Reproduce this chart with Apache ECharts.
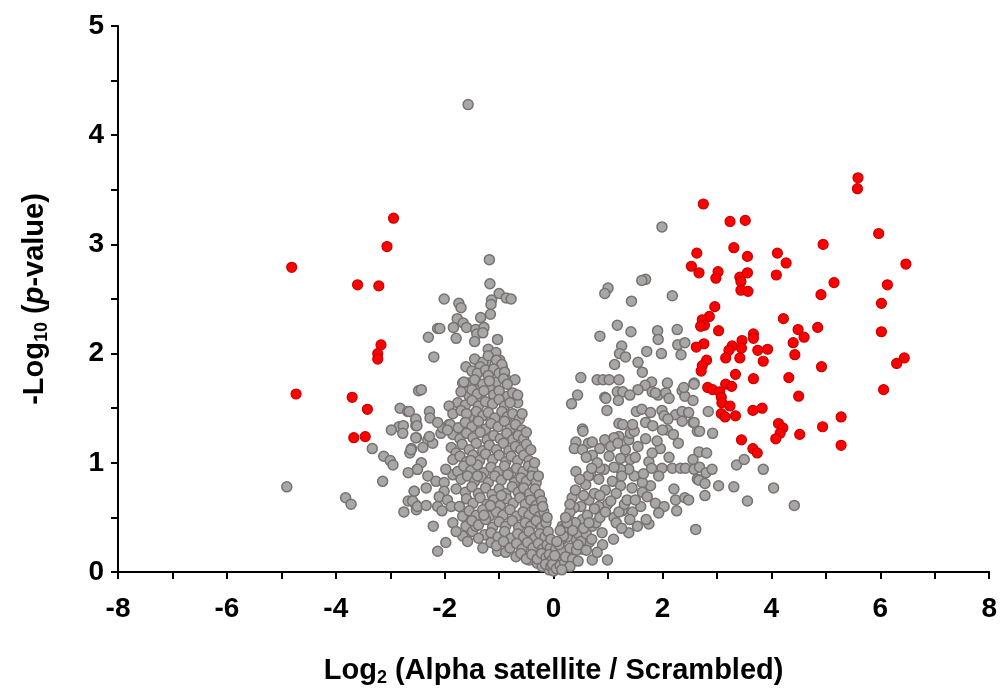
<!DOCTYPE html>
<html lang="en">
<head>
    <meta charset="UTF-8">
    <title>Volcano plot</title>
    <script src="https://cdn.jsdelivr.net/npm/echarts@6/dist/echarts.min.js"></script>
</head>
<body style="margin: 0; background: #fff;">
<div id="container" style="width: 1000px; height: 693px;"></div>
<script type="text/javascript">
    // log2 fold change, -log10 p
    let xTicks = [-8, -6, -4, -2, 0, 2, 4, 6, 8];
    let yTicks = [0, 1, 2, 3, 4, 5];

    let sigPoints = [
        [-2.94, 3.24], [-3.06, 2.98], [-4.81, 2.79], [-3.60, 2.63], [-3.21, 2.62], [-3.17, 2.08], [-3.23, 2.00],
        [-3.23, 1.95], [-4.73, 1.63], [-3.70, 1.60], [-3.42, 1.49], [-3.67, 1.23], [-3.46, 1.24],
        [2.75, 3.37], [3.24, 3.21], [3.52, 3.22], [2.63, 2.92], [3.31, 2.97], [3.56, 2.89], [4.11, 2.92],
        [4.27, 2.83], [4.95, 3.00], [2.53, 2.80], [2.67, 2.74], [3.02, 2.75], [2.98, 2.69], [3.42, 2.70],
        [3.44, 2.66], [3.56, 2.74], [4.09, 2.72], [3.44, 2.58], [3.57, 2.57], [5.15, 2.65], [4.91, 2.54],
        [2.96, 2.43], [2.86, 2.34], [2.73, 2.31], [2.77, 2.26], [2.70, 2.25], [3.03, 2.21], [4.22, 2.32],
        [4.49, 2.22], [4.60, 2.15], [4.85, 2.24], [3.67, 2.18], [3.67, 2.14], [4.40, 2.10], [2.76, 2.09],
        [2.62, 2.06], [3.46, 2.12], [3.28, 2.07], [3.22, 2.03], [3.45, 2.05], [3.75, 2.03], [3.93, 2.04],
        [4.43, 1.99], [3.16, 1.96], [3.42, 1.96], [3.85, 1.93], [2.81, 1.94], [2.73, 1.89], [2.71, 1.84],
        [4.92, 1.88], [3.34, 1.81], [3.67, 1.77], [4.32, 1.78], [3.16, 1.72], [3.27, 1.70], [2.83, 1.69],
        [2.92, 1.67], [3.05, 1.65], [3.08, 1.60], [3.09, 1.55], [3.24, 1.52], [4.50, 1.61], [3.08, 1.45],
        [3.15, 1.42], [3.34, 1.43], [3.66, 1.48], [3.83, 1.50], [4.94, 1.33], [4.13, 1.36], [4.21, 1.32],
        [4.16, 1.27], [4.08, 1.22], [4.52, 1.26], [3.45, 1.21], [3.66, 1.13], [3.74, 1.09], [5.28, 1.42],
        [5.28, 1.16], [5.59, 3.61], [5.58, 3.51], [5.97, 3.10], [6.47, 2.82], [6.13, 2.63], [6.02, 2.46],
        [6.02, 2.20], [6.44, 1.96], [6.30, 1.91], [6.06, 1.67]
    ];

    let nsPoints = [
        // left side, outliers and upper cloud
        [-1.57, 4.28], [-2.48, 1.66], [-2.82, 1.50], [-2.68, 1.47], [-2.53, 1.39], [-2.53, 1.34], [-2.84, 1.33],
        [-2.76, 1.34], [-2.98, 1.30], [-2.77, 1.27], [-2.52, 1.23], [-2.61, 1.13], [-2.64, 1.09], [-3.33, 1.13],
        [-3.12, 1.06], [-3.00, 1.02], [-2.95, 0.98], [-2.67, 0.91], [-2.50, 0.94], [-4.90, 0.78], [-3.14, 0.83],
        [-3.82, 0.68], [-3.72, 0.62], [-2.56, 0.74], [-2.67, 0.65], [-2.54, 0.62], [-2.75, 0.55], [-2.52, 0.57],
        [-1.18, 2.86], [-1.17, 2.64], [-1.00, 2.55], [-0.87, 2.51], [-0.78, 2.50], [-1.14, 2.49], [-1.15, 2.45],
        [-2.01, 2.50], [-1.74, 2.46], [-1.70, 2.42], [-1.16, 2.36], [-1.34, 2.33], [-1.77, 2.32], [-1.66, 2.28],
        [-1.60, 2.24], [-1.84, 2.24], [-2.13, 2.23], [-2.09, 2.23], [-2.30, 2.15], [-1.79, 2.14], [-1.43, 2.22],
        [-1.28, 2.24], [-1.41, 2.18], [-1.30, 2.19], [-1.45, 2.11], [-1.03, 2.13], [-2.20, 1.97], [-1.20, 2.04],
        [-1.06, 2.01], [-2.43, 1.67], [-1.61, 1.88], [-1.37, 1.92], [-1.24, 1.93], [-0.99, 1.94], [-0.94, 1.87],
        [-1.21, 1.81], [-1.43, 1.79], [-0.88, 1.77], [-0.71, 1.76], [-1.67, 1.73], [-1.55, 1.73], [-1.05, 1.74],
        [-1.43, 1.67], [-1.18, 1.69], [-0.85, 1.61], [-0.66, 1.55], [-1.76, 1.55], [-1.55, 1.61], [-1.33, 1.58],
        [-1.03, 1.61], [-1.92, 1.52], [-2.28, 1.47], [-2.65, 1.47], [-2.53, 1.40],
        // left side, lower cloud
        [-2.51, 1.34], [-2.27, 1.41], [-2.31, 1.21], [-2.22, 1.18], [-2.53, 1.23], [-2.40, 1.14], [-2.62, 1.12],
        [-2.43, 1.00], [-2.50, 0.94], [-2.31, 0.88], [-2.16, 0.83], [-2.34, 0.77], [-2.56, 0.74], [-2.59, 0.65],
        [-2.50, 0.60], [-2.34, 0.61], [-2.13, 0.60], [-2.05, 0.56], [-2.21, 0.42], [-2.13, 0.19], [-1.98, 0.27],
        [-2.01, 0.82], [-2.01, 0.74], [-2.10, 0.69], [-1.95, 0.66], [-2.07, 1.27], [-2.04, 1.32], [-1.92, 1.35],
        [-2.13, 1.37], [-2.28, 1.24], [-1.85, 1.26], [-1.88, 1.14], [-1.79, 1.09], [-1.85, 1.03], [-1.85, 0.89],
        [-1.76, 0.92], [-1.98, 0.94], [-1.70, 0.85], [-1.79, 0.76], [-1.88, 0.60], [-1.73, 0.60], [-1.67, 0.51],
        [-1.61, 0.42], [-1.85, 0.45], [-1.67, 0.33], [-1.58, 0.28], [-1.79, 0.37], [-1.49, 0.37], [-1.43, 0.42],
        [-1.27, 0.34], [-1.15, 0.27], [-1.03, 0.19], [-0.88, 0.18], [-0.69, 0.14], [-0.45, 0.11], [-0.30, 0.08],
        [-0.21, 0.05], [-0.08, 0.02],
        // left dense core
        [-1.45, 1.95], [-1.30, 1.92], [-1.20, 1.98], [-1.05, 1.94], [-0.95, 1.90], [-1.35, 1.88],
        [-1.50, 1.84], [-1.40, 1.82], [-1.25, 1.85], [-1.10, 1.86], [-1.00, 1.82], [-0.90, 1.83], [-1.20, 1.80],
        [-1.65, 1.74], [-1.45, 1.76], [-1.30, 1.72], [-1.18, 1.75], [-0.92, 1.77], [-0.85, 1.72],
        [-1.70, 1.65], [-1.50, 1.67], [-1.40, 1.63], [-1.28, 1.66], [-1.10, 1.62], [-1.00, 1.66], [-0.75, 1.64],
        [-1.62, 1.53], [-1.50, 1.57], [-1.38, 1.52], [-1.25, 1.56], [-1.12, 1.54], [-1.00, 1.58], [-0.90, 1.52],
        [-0.80, 1.55], [-1.85, 1.45], [-1.70, 1.48], [-1.55, 1.42], [-1.42, 1.47], [-1.30, 1.43], [-1.20, 1.46],
        [-1.08, 1.41], [-0.95, 1.47], [-0.85, 1.42], [-0.75, 1.45], [-0.63, 1.40], [-1.60, 1.45],
        [-1.90, 1.35], [-1.75, 1.32], [-1.62, 1.37], [-1.50, 1.33], [-1.38, 1.38], [-1.25, 1.31], [-1.15, 1.36],
        [-1.02, 1.33], [-0.90, 1.38], [-0.80, 1.31], [-0.70, 1.35], [-0.58, 1.30], [-1.95, 1.30],
        [-1.72, 1.22], [-1.60, 1.27], [-1.48, 1.23], [-1.35, 1.28], [-1.22, 1.21], [-1.10, 1.25], [-0.98, 1.22],
        [-0.86, 1.27], [-0.75, 1.21], [-0.65, 1.25], [-0.55, 1.22],
        [-1.68, 1.17], [-1.55, 1.12], [-1.42, 1.18], [-1.30, 1.11], [-1.18, 1.16], [-1.05, 1.12], [-0.92, 1.18],
        [-0.82, 1.11], [-0.70, 1.15], [-0.60, 1.12], [-0.50, 1.17],
        [-1.72, 1.06], [-1.60, 1.01], [-1.48, 1.07], [-1.36, 1.02], [-1.25, 1.08], [-1.12, 1.03], [-1.00, 1.07],
        [-0.88, 1.01], [-0.78, 1.06], [-0.66, 1.02], [-0.55, 1.07], [-0.45, 1.02],
        [-1.65, 0.97], [-1.52, 0.93], [-1.40, 0.98], [-1.28, 0.91], [-1.15, 0.96], [-1.02, 0.92], [-0.90, 0.97],
        [-0.78, 0.91], [-0.68, 0.95], [-0.56, 0.92], [-0.46, 0.97], [-0.38, 0.93],
        [-1.58, 0.88], [-1.45, 0.83], [-1.33, 0.87], [-1.20, 0.82], [-1.08, 0.88], [-0.96, 0.84], [-0.84, 0.89],
        [-0.72, 0.82], [-0.60, 0.86], [-0.50, 0.83], [-0.40, 0.88], [-0.32, 0.82],
        [-1.62, 0.73], [-1.50, 0.78], [-1.38, 0.72], [-1.25, 0.77], [-1.13, 0.71], [-1.00, 0.76], [-0.88, 0.72],
        [-0.76, 0.78], [-0.65, 0.73], [-0.55, 0.77], [-0.44, 0.72], [-0.34, 0.76], [-0.26, 0.71],
        [-1.60, 0.67], [-1.48, 0.63], [-1.35, 0.68], [-1.22, 0.62], [-1.10, 0.66], [-0.98, 0.61], [-0.86, 0.67],
        [-0.74, 0.63], [-0.62, 0.68], [-0.52, 0.62], [-0.42, 0.66], [-0.32, 0.61], [-0.22, 0.65],
        [-1.55, 0.56], [-1.42, 0.52], [-1.30, 0.57], [-1.18, 0.51], [-1.05, 0.55], [-0.93, 0.52], [-0.80, 0.57],
        [-0.68, 0.51], [-0.56, 0.55], [-0.45, 0.52], [-0.35, 0.57], [-0.26, 0.51], [-0.18, 0.55],
        [-1.50, 0.47], [-1.38, 0.43], [-1.25, 0.48], [-1.12, 0.41], [-1.00, 0.46], [-0.88, 0.42], [-0.76, 0.47],
        [-0.64, 0.41], [-0.52, 0.45], [-0.42, 0.42], [-0.32, 0.47], [-0.22, 0.41], [-0.14, 0.45],
        [-1.38, 0.31], [-1.15, 0.36], [-1.02, 0.32], [-0.90, 0.37], [-0.78, 0.31], [-0.66, 0.35], [-0.55, 0.32],
        [-0.45, 0.37], [-0.35, 0.31], [-0.25, 0.35], [-0.16, 0.32], [-0.10, 0.37],
        [-1.30, 0.22], [-1.05, 0.24], [-0.92, 0.28], [-0.80, 0.22], [-0.68, 0.26], [-0.58, 0.21], [-0.48, 0.27],
        [-0.38, 0.22], [-0.28, 0.26], [-0.20, 0.21], [-0.12, 0.25], [-0.06, 0.22],
        [-0.60, 0.17], [-0.50, 0.12], [-0.40, 0.16], [-0.30, 0.12], [-0.22, 0.17], [-0.14, 0.13], [-0.08, 0.16],
        [-0.03, 0.11], [-0.15, 0.07], [-0.05, 0.05], [0.00, 0.01],
        [-0.05, 0.30], [-0.12, 0.50], [-0.20, 0.60], [-0.28, 0.88], [-0.35, 1.00], [-0.42, 1.12], [-0.50, 1.28],
        [-0.58, 1.45], [-0.66, 1.62], [-1.52, 1.02], [-1.40, 0.88], [-1.28, 0.52], [-1.16, 0.61], [-0.96, 0.70],
        // right side
        [1.99, 3.16], [1.69, 2.68], [1.62, 2.67], [1.00, 2.60], [0.94, 2.55], [1.43, 2.48], [2.18, 2.53],
        [1.17, 2.26], [0.85, 2.16], [1.42, 2.20], [1.91, 2.21], [1.92, 2.13], [2.27, 2.22], [2.28, 2.08],
        [2.41, 2.10], [1.25, 2.07], [1.21, 2.00], [1.32, 1.97], [1.71, 2.02], [1.98, 2.00], [2.34, 1.99],
        [1.12, 1.90], [1.55, 1.92], [1.63, 1.83], [0.50, 1.78], [0.80, 1.76], [0.91, 1.76], [1.02, 1.76],
        [1.20, 1.76], [1.80, 1.74], [2.09, 1.73], [1.68, 1.71], [1.55, 1.67], [2.58, 1.73], [0.44, 1.62],
        [0.94, 1.60], [1.17, 1.65], [1.27, 1.65], [1.40, 1.62], [1.81, 1.65], [1.92, 1.62], [2.06, 1.64],
        [2.36, 1.66], [2.41, 1.61], [0.33, 1.54], [0.96, 1.59], [1.19, 1.57], [1.87, 1.64], [2.39, 1.69],
        [2.56, 1.57], [2.12, 1.59], [0.98, 1.48], [1.52, 1.47], [1.62, 1.49], [1.78, 1.46], [1.99, 1.48],
        [2.03, 1.43], [2.24, 1.44], [2.36, 1.47], [2.48, 1.46], [1.20, 1.36], [1.27, 1.35], [1.69, 1.37],
        [1.82, 1.34], [2.09, 1.30], [2.20, 1.26], [2.29, 1.18], [2.36, 1.38], [2.56, 1.37], [2.64, 1.29],
        [0.53, 1.31], [0.54, 1.29], [1.20, 1.24], [1.38, 1.21], [1.41, 1.27], [1.48, 1.29], [1.69, 1.22],
        [0.41, 1.19], [0.38, 1.13], [0.64, 1.18], [0.71, 1.19], [0.85, 1.13], [0.94, 1.21], [1.11, 1.23],
        [1.05, 1.15], [1.18, 1.18], [1.32, 1.12], [0.53, 1.12], [0.71, 1.07], [1.02, 1.06], [1.23, 1.04],
        [1.41, 1.03], [1.75, 1.01], [1.96, 1.13], [1.81, 1.09], [2.12, 1.05], [2.18, 0.95], [2.33, 0.95],
        [2.42, 0.95], [2.59, 0.95], [2.64, 0.85], [1.99, 0.95], [1.93, 0.88], [1.78, 0.79], [1.63, 0.82],
        [1.48, 0.88], [1.38, 0.94], [1.23, 0.94], [1.11, 0.96], [0.93, 0.94], [0.68, 0.89], [0.41, 0.92],
        [0.64, 0.88], [0.59, 0.80], [0.83, 0.85], [1.08, 0.83], [1.23, 0.79], [1.44, 0.77], [1.63, 0.73],
        [1.72, 0.69], [1.87, 0.63], [2.03, 0.60], [2.21, 0.76], [2.24, 0.66], [2.41, 0.68], [2.26, 0.56],
        [2.61, 0.39], [1.93, 0.54], [1.75, 0.44], [1.54, 0.42], [1.38, 0.36], [1.26, 0.56], [1.11, 0.50],
        [0.99, 0.62], [0.83, 0.60], [0.65, 0.66], [0.50, 0.60], [0.34, 0.68], [0.38, 0.59], [0.16, 0.42],
        [0.28, 0.48], [0.53, 0.48], [0.71, 0.42], [0.89, 0.36], [0.99, 0.11], [0.71, 0.11], [0.41, 0.30],
        [0.65, 0.27], [0.16, 0.30], [0.04, 0.21], [0.28, 0.18], [0.53, 0.21], [0.10, 0.11], [-0.02, 0.07],
        [2.58, 1.72], [2.84, 1.47], [2.58, 1.37], [2.68, 1.29], [2.92, 1.27], [2.67, 1.10], [2.81, 1.09],
        [2.56, 1.03], [2.58, 0.94], [2.68, 0.96], [2.80, 0.91], [2.91, 0.94], [2.67, 0.84], [2.78, 0.81],
        [2.78, 0.70], [3.03, 0.79], [3.31, 0.78], [3.36, 0.98], [3.50, 1.03], [3.85, 0.94], [4.04, 0.77],
        [3.56, 0.65], [4.42, 0.61], [2.48, 0.66],
        [0.05, 0.03], [0.12, 0.06], [0.20, 0.09], [0.08, 0.15], [0.15, 0.20], [0.22, 0.14], [0.30, 0.22],
        [0.35, 0.12], [0.42, 0.20], [0.25, 0.32], [0.45, 0.35], [0.50, 0.28], [0.60, 0.35], [0.70, 0.30],
        [0.78, 0.45], [0.85, 0.50], [0.62, 0.52], [0.40, 0.45], [0.90, 0.25], [1.10, 0.30], [1.20, 0.55],
        [1.30, 0.62], [1.45, 0.55], [0.55, 0.70], [0.75, 0.72], [0.95, 0.75], [1.15, 0.72], [1.35, 0.66],
        [1.60, 0.60], [1.70, 0.48], [0.85, 0.95], [1.25, 0.88], [1.50, 1.05], [0.20, 0.40], [0.30, 0.55],
        [0.10, 0.25], [0.18, 0.33], [0.25, 0.45], [0.35, 0.38], [0.45, 0.25], [0.55, 0.40], [0.65, 0.45],
        [0.75, 0.58], [0.85, 0.70], [0.95, 0.55], [1.05, 0.65], [1.15, 0.45], [1.25, 0.40], [1.40, 0.48],
        [1.50, 0.66], [1.65, 0.90], [1.80, 0.95], [1.90, 1.20], [2.00, 1.30], [2.10, 1.40], [1.55, 1.15],
        [1.45, 1.35], [0.80, 1.00], [0.70, 0.95], [0.60, 1.05], [0.48, 0.85], [0.40, 0.75], [0.30, 0.62],
        [0.22, 0.50], [0.12, 0.38], [0.06, 0.28], [0.02, 0.15], [0.30, 0.05], [0.45, 0.10], [0.60, 0.20],
        [0.80, 0.18], [0.15, 0.02]
    ];

    let labelFont = 'Liberation Sans';
    let dom = document.getElementById('container');
    let myChart = echarts.init(dom);

    let tickStyle = {color: '#000', width: 2};
    let titleRich = {
        b: {fontFamily: labelFont, fontWeight: 'bold', fontSize: 29, color: '#000', lineHeight: 34},
        i: {fontFamily: labelFont, fontWeight: 'bold', fontStyle: 'italic', fontSize: 29, color: '#000', lineHeight: 34},
        sub: {fontFamily: labelFont, fontWeight: 'bold', fontSize: 18, color: '#000', lineHeight: 34,
            padding: [14, 0, 0, 0]}
    };

    let option = {
        backgroundColor: '#fff',
        animation: false,
        grid: {left: 118, right: 9, top: 26, bottom: 121},
        xAxis: {
            type: 'value',
            min: xTicks[0],
            max: xTicks[xTicks.length - 1],
            interval: 2,
            name: '{b|Log}{sub|2}{b| (Alpha satellite / Scrambled)}',
            nameLocation: 'middle',
            nameGap: 82,
            nameTextStyle: {rich: titleRich},
            axisLine: {onZero: false, lineStyle: {color: '#000', width: 2}},
            axisTick: {show: true, length: 7, lineStyle: tickStyle},
            minorTick: {show: true, splitNumber: 2, length: 7, lineStyle: tickStyle},
            splitLine: {show: false},
            axisLabel: {
                fontFamily: labelFont, fontWeight: 'bold', fontSize: 28, color: '#000', margin: 23
            }
        },
        yAxis: {
            type: 'value',
            min: yTicks[0],
            max: yTicks[yTicks.length - 1],
            interval: 1,
            name: '{b|-Log}{sub|10}{b| (}{i|p}{b|-value)}',
            nameLocation: 'middle',
            nameGap: 66,
            nameTextStyle: {rich: titleRich},
            axisLine: {onZero: false, lineStyle: {color: '#000', width: 2}},
            axisTick: {show: true, length: 7, lineStyle: tickStyle},
            minorTick: {show: true, splitNumber: 2, length: 7, lineStyle: tickStyle},
            splitLine: {show: false},
            axisLabel: {
                fontFamily: labelFont, fontWeight: 'bold', fontSize: 28, color: '#000', margin: 14
            }
        },
        series: [{
            type: 'scatter',
            data: nsPoints,
            symbolSize: 10,
            itemStyle: {color: '#a9a6a6', borderColor: '#767271', borderWidth: 1.5, opacity: 1}
        }, {
            type: 'scatter',
            data: sigPoints,
            symbolSize: 10,
            itemStyle: {color: '#ff0000', borderColor: '#c80000', borderWidth: 1.2, opacity: 1}
        }]
    };
    myChart.setOption(option);
</script>
</body>
</html>
